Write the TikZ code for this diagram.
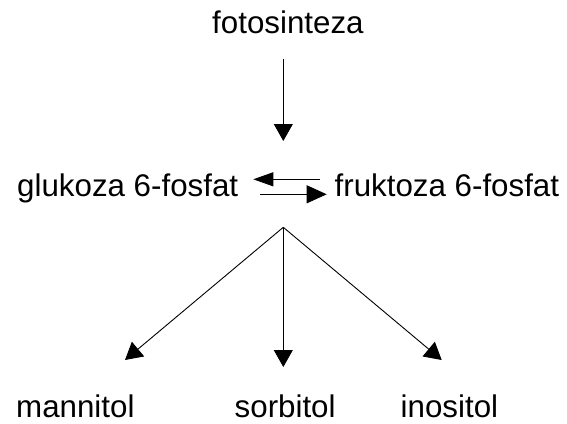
\documentclass[tikz,border=0pt]{standalone}
\usepackage{fontspec}
\setmainfont{Liberation Sans}
\usetikzlibrary{arrows.meta}
\begin{document}
\begin{tikzpicture}[x=1pt,y=-1pt,
  lbl/.style={anchor=base west,inner sep=0pt,font=\fontsize{31.3}{36}\selectfont},
  conn/.style={line width=0.9pt,-{Triangle[length=17pt,width=19pt]}},
  hconn/.style={line width=0.9pt,-{Triangle[length=20pt,width=#1]}}]
\useasboundingbox (0,0) rectangle (567,423);
\node[lbl] (foto) at (212,33.5) {fotosinteza};
\node[lbl] (gluk) at (17,196.5) {glukoza 6-fosfat};
\node[lbl] (fruk) at (334.5,196.5) {fruktoza 6-fosfat};
\node[lbl] (mann) at (16,417.5) {mannitol};
\node[lbl] (sorb) at (234.5,417.5) {sorbitol};
\node[lbl] (inos) at (400.5,417.5) {inositol};
\coordinate (a1) at (283.3,58.7);
\coordinate (a2) at (283.3,141);
\coordinate (apex) at (283.3,227.3);
\coordinate (tm) at (125,360);
\coordinate (ts) at (283.3,367);
\coordinate (ti) at (441.7,360);
\coordinate (u1) at (320,179.3);
\coordinate (u2) at (253.3,179.3);
\coordinate (l1) at (260,194.3);
\coordinate (l2) at (326.7,194.3);
\draw[conn] (a1) -- (a2);
\draw[conn] (apex) -- (tm);
\draw[conn] (apex) -- (ts);
\draw[conn] (apex) -- (ti);
\draw[hconn=14pt] (u1) -- (u2);
\draw[hconn=18pt] (l1) -- (l2);
\end{tikzpicture}
\end{document}
